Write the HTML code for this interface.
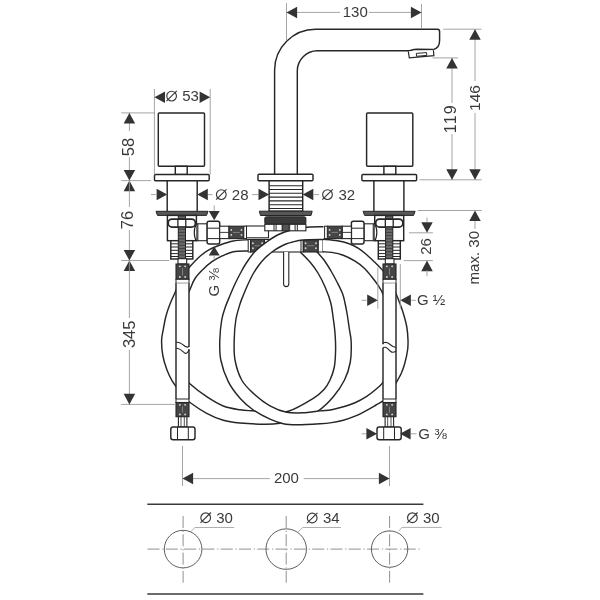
<!DOCTYPE html>
<html><head><meta charset="utf-8"><title>drawing</title>
<style>html,body{margin:0;padding:0;background:#fff;width:600px;height:600px;overflow:hidden}
svg{display:block;font-family:"Liberation Sans",sans-serif;will-change:transform}</style></head>
<body>
<svg width="600" height="600" viewBox="0 0 600 600" font-family="Liberation Sans, sans-serif" fill="#3a3a3a">
<rect width="600" height="600" fill="#fff" stroke="none"/>
<rect x="262" y="239.5" width="42" height="12.5" rx="0" fill="#fff" stroke="#262626" stroke-width="1.1"/>
<rect x="246" y="226" width="22.5" height="11.8" rx="0" fill="#fff" stroke="#262626" stroke-width="1.1"/>
<path d="M248,239.7 C245.55,239.92 237.97,240.12 233.3,241 C228.63,241.88 224,243.55 220,245 C216,246.45 212.63,247.82 209.3,249.7 C205.97,251.58 202.88,253.87 200,256.3 C197.12,258.73 194.33,261.77 192,264.3 C189.67,266.83 188,268.72 186,271.5 C184,274.28 181.78,277.58 180,281 C178.22,284.42 176.97,288.17 175.3,292 C173.63,295.83 171.55,300 170,304 C168.45,308 167.12,311.78 166,316 C164.88,320.22 164.03,325.22 163.3,329.3 C162.57,333.38 161.68,336.13 161.6,340.5 C161.52,344.87 161.93,350.67 162.8,355.5 C163.67,360.33 165.27,365.3 166.8,369.5 C168.33,373.7 170.22,377.53 172,380.7 C173.78,383.87 175.58,385.95 177.5,388.5 C179.42,391.05 181.42,393.67 183.5,396 C185.58,398.33 186.13,399.62 190,402.5 C193.87,405.38 201.15,410.33 206.7,413.3 C212.25,416.27 217.75,418.68 223.3,420.3 C228.85,421.92 233.05,422.35 240,423 C246.95,423.65 258.33,424.15 265,424.2 C271.67,424.25 274.17,424.08 280,423.3 C285.83,422.52 293.62,421.58 300,419.5 C306.38,417.42 312.75,414.6 318.3,410.8 C323.85,407 328.93,401.83 333.3,396.7 C337.67,391.57 341.67,385.78 344.5,380 C347.33,374.22 349.18,368.33 350.3,362 C351.42,355.67 351.38,347.67 351.2,342 C351.02,336.33 349.85,332.5 349.2,328 C348.55,323.5 348,319.17 347.3,315 C346.6,310.83 345.8,306.58 345,303 C344.2,299.42 343.83,297 342.5,293.5 C341.17,290 338.92,285.75 337,282 C335.08,278.25 333.17,274.67 331,271 C328.83,267.33 326.42,263.25 324,260 C321.58,256.75 317.75,252.92 316.5,251.5 L300.3,252 C301.92,253.67 307.05,258.5 310,262 C312.95,265.5 315.45,268.75 318,273 C320.55,277.25 323.17,282.5 325.3,287.5 C327.43,292.5 329.48,297.92 330.8,303 C332.12,308.08 332.5,313 333.2,318 C333.9,323 334.6,327.67 335,333 C335.4,338.33 335.72,344.33 335.6,350 C335.48,355.67 335.23,362 334.3,367 C333.37,372 331.72,376.25 330,380 C328.28,383.75 326.78,386.45 324,389.5 C321.22,392.55 319.25,394.67 313.3,398.3 C307.35,401.93 295.52,409.1 288.3,411.3 C281.08,413.5 276.1,411.58 270,411.5 C263.9,411.42 256.7,411.08 251.7,410.8 C246.7,410.52 244.73,410.6 240,409.8 C235.27,409 228.85,408.18 223.3,406 C217.75,403.82 212.37,400.48 206.7,396.7 C201.03,392.92 193.33,386.92 189.3,383.3 C185.27,379.68 184.3,378.55 182.5,375 C180.7,371.45 179.38,367 178.5,362 C177.62,357 177.32,350.33 177.2,345 C177.08,339.67 177.33,335 177.8,330 C178.27,325 178.97,319.67 180,315 C181.03,310.33 182.45,306 184,302 C185.55,298 187.52,294.83 189.3,291 C191.08,287.17 192.47,282.55 194.7,279 C196.93,275.45 199.82,272.58 202.7,269.7 C205.58,266.82 208.67,264.03 212,261.7 C215.33,259.37 219.15,257.37 222.7,255.7 C226.25,254.03 229.08,252.48 233.3,251.7 C237.52,250.92 245.55,251.12 248,251 Z" fill="#fff" stroke="none"/>
<path d="M248,239.7 C245.55,239.92 237.97,240.12 233.3,241 C228.63,241.88 224,243.55 220,245 C216,246.45 212.63,247.82 209.3,249.7 C205.97,251.58 202.88,253.87 200,256.3 C197.12,258.73 194.33,261.77 192,264.3 C189.67,266.83 188,268.72 186,271.5 C184,274.28 181.78,277.58 180,281 C178.22,284.42 176.97,288.17 175.3,292 C173.63,295.83 171.55,300 170,304 C168.45,308 167.12,311.78 166,316 C164.88,320.22 164.03,325.22 163.3,329.3 C162.57,333.38 161.68,336.13 161.6,340.5 C161.52,344.87 161.93,350.67 162.8,355.5 C163.67,360.33 165.27,365.3 166.8,369.5 C168.33,373.7 170.22,377.53 172,380.7 C173.78,383.87 175.58,385.95 177.5,388.5 C179.42,391.05 181.42,393.67 183.5,396 C185.58,398.33 186.13,399.62 190,402.5 C193.87,405.38 201.15,410.33 206.7,413.3 C212.25,416.27 217.75,418.68 223.3,420.3 C228.85,421.92 233.05,422.35 240,423 C246.95,423.65 258.33,424.15 265,424.2 C271.67,424.25 274.17,424.08 280,423.3 C285.83,422.52 293.62,421.58 300,419.5 C306.38,417.42 312.75,414.6 318.3,410.8 C323.85,407 328.93,401.83 333.3,396.7 C337.67,391.57 341.67,385.78 344.5,380 C347.33,374.22 349.18,368.33 350.3,362 C351.42,355.67 351.38,347.67 351.2,342 C351.02,336.33 349.85,332.5 349.2,328 C348.55,323.5 348,319.17 347.3,315 C346.6,310.83 345.8,306.58 345,303 C344.2,299.42 343.83,297 342.5,293.5 C341.17,290 338.92,285.75 337,282 C335.08,278.25 333.17,274.67 331,271 C328.83,267.33 326.42,263.25 324,260 C321.58,256.75 317.75,252.92 316.5,251.5" stroke="#262626" stroke-width="1.45" fill="none"/>
<path d="M248,251 C245.55,251.12 237.52,250.92 233.3,251.7 C229.08,252.48 226.25,254.03 222.7,255.7 C219.15,257.37 215.33,259.37 212,261.7 C208.67,264.03 205.58,266.82 202.7,269.7 C199.82,272.58 196.93,275.45 194.7,279 C192.47,282.55 191.08,287.17 189.3,291 C187.52,294.83 185.55,298 184,302 C182.45,306 181.03,310.33 180,315 C178.97,319.67 178.27,325 177.8,330 C177.33,335 177.08,339.67 177.2,345 C177.32,350.33 177.62,357 178.5,362 C179.38,367 180.7,371.45 182.5,375 C184.3,378.55 185.27,379.68 189.3,383.3 C193.33,386.92 201.03,392.92 206.7,396.7 C212.37,400.48 217.75,403.82 223.3,406 C228.85,408.18 235.27,409 240,409.8 C244.73,410.6 246.7,410.52 251.7,410.8 C256.7,411.08 263.9,411.42 270,411.5 C276.1,411.58 281.08,413.5 288.3,411.3 C295.52,409.1 307.35,401.93 313.3,398.3 C319.25,394.67 321.22,392.55 324,389.5 C326.78,386.45 328.28,383.75 330,380 C331.72,376.25 333.37,372 334.3,367 C335.23,362 335.48,355.67 335.6,350 C335.72,344.33 335.4,338.33 335,333 C334.6,327.67 333.9,323 333.2,318 C332.5,313 332.12,308.08 330.8,303 C329.48,297.92 327.43,292.5 325.3,287.5 C323.17,282.5 320.55,277.25 318,273 C315.45,268.75 312.95,265.5 310,262 C307.05,258.5 301.92,253.67 300.3,252" stroke="#262626" stroke-width="1.45" fill="none"/>
<rect x="248.2" y="239.5" width="2.4" height="12.5" rx="0" fill="#fff" stroke="#262626" stroke-width="1.0"/>
<rect x="250.6" y="239.5" width="13.9" height="12.5" rx="0" fill="#464646" stroke="#262626" stroke-width="1.1"/>
<circle cx="252.9" cy="243.25" r="0.9" fill="#ddd"/>
<circle cx="252.9" cy="248.25" r="0.9" fill="#ddd"/>
<circle cx="262.2" cy="243.25" r="0.9" fill="#ddd"/>
<circle cx="262.2" cy="248.25" r="0.9" fill="#ddd"/>
<line x1="254.6" y1="245.75" x2="260.5" y2="245.75" stroke="#999" stroke-width="0.7"/>
<rect x="301" y="239.5" width="2.3" height="12.5" rx="0" fill="#fff" stroke="#262626" stroke-width="1.0"/>
<rect x="303.3" y="239.5" width="15" height="12.5" rx="0" fill="#464646" stroke="#262626" stroke-width="1.1"/>
<circle cx="305.6" cy="243.25" r="0.9" fill="#ddd"/>
<circle cx="305.6" cy="248.25" r="0.9" fill="#ddd"/>
<circle cx="316" cy="243.25" r="0.9" fill="#ddd"/>
<circle cx="316" cy="248.25" r="0.9" fill="#ddd"/>
<line x1="307.3" y1="245.75" x2="314.3" y2="245.75" stroke="#999" stroke-width="0.7"/>
<rect x="318.3" y="239.5" width="4.7" height="12.5" rx="0" fill="#fff" stroke="#262626" stroke-width="1.0"/>
<path d="M283.6,252 L283.6,284 A2.6,2.6 0 0 0 288.8,284 L288.8,252" stroke="#262626" stroke-width="1.1" fill="#fff"/>
<path d="M323.5,226.75 C320.33,226.88 310.17,226.88 304.5,227.5 C298.83,228.12 294,229.25 289.5,230.5 C285,231.75 281.25,233.12 277.5,235 C273.75,236.88 270.75,239 267,241.75 C263.25,244.5 258.5,247.88 255,251.5 C251.5,255.12 248.5,259.75 246,263.5 C243.5,267.25 241.92,270.42 240,274 C238.08,277.58 236.17,281.42 234.5,285 C232.83,288.58 231.58,291.67 230,295.5 C228.42,299.33 226.38,303.92 225,308 C223.62,312.08 222.57,314.67 221.7,320 C220.83,325.33 219.95,333.33 219.8,340 C219.65,346.67 219.38,353.05 220.8,360 C222.22,366.95 225.1,375.32 228.3,381.7 C231.5,388.08 235.83,393.58 240,398.3 C244.17,403.02 248.3,406.52 253.3,410 C258.3,413.48 265,416.92 270,419.2 C275,421.48 278.85,422.78 283.3,423.7 C287.75,424.62 290.58,424.69 296.7,424.7 C302.82,424.71 314.17,424.1 320,423.75 C325.83,423.4 327.82,423.18 331.7,422.6 C335.58,422.02 339.42,421.32 343.3,420.25 C347.18,419.18 351.1,417.86 355,416.2 C358.9,414.54 363.2,412.17 366.7,410.3 C370.2,408.43 373.28,406.58 376,405 C378.72,403.42 380.67,402.88 383,400.8 C385.33,398.72 387.87,395.42 390,392.5 C392.13,389.58 393.93,386.47 395.8,383.3 C397.67,380.13 399.7,376.83 401.2,373.5 C402.7,370.17 403.73,367.22 404.8,363.3 C405.87,359.38 407.07,353.88 407.6,350 C408.13,346.12 408.13,343.83 408,340 C407.87,336.17 407.58,331.45 406.8,327 C406.02,322.55 404.52,317.38 403.3,313.3 C402.08,309.22 400.75,305.83 399.5,302.5 C398.25,299.17 397.43,296.8 395.8,293.3 C394.17,289.8 391.73,285.1 389.7,281.5 C387.67,277.9 385.1,273.92 383.6,271.7 C382.1,269.48 382.17,269.77 380.7,268.2 C379.23,266.63 377.13,264.54 374.8,262.3 C372.47,260.06 369.42,257.08 366.7,254.75 C363.98,252.42 361.42,250.14 358.5,248.3 C355.58,246.46 352.7,244.96 349.2,243.7 C345.7,242.44 341.87,241.5 337.5,240.75 C333.13,240 325.42,239.46 323,239.2 L323,251.8 C324.45,251.9 328.32,251.82 331.7,252.4 C335.08,252.98 339.42,253.83 343.3,255.3 C347.18,256.77 351.5,259.05 355,261.2 C358.5,263.35 361.58,265.68 364.3,268.2 C367.02,270.72 368.97,273.38 371.3,276.3 C373.63,279.22 376.35,282.78 378.3,285.7 C380.25,288.62 381.3,290.42 383,293.8 C384.7,297.18 387,301.3 388.5,306 C390,310.7 391.2,316.33 392,322 C392.8,327.67 393.3,334.17 393.3,340 C393.3,345.83 392.8,351.67 392,357 C391.2,362.33 390,367.78 388.5,372 C387,376.22 385.08,379.42 383,382.3 C380.92,385.18 378.72,386.97 376,389.3 C373.28,391.63 370.2,394.06 366.7,396.3 C363.2,398.54 358.9,401 355,402.75 C351.1,404.5 347.18,405.63 343.3,406.8 C339.42,407.97 335.58,409.07 331.7,409.75 C327.82,410.43 324.45,410.41 320,410.9 C315.55,411.39 310.55,412.48 305,412.7 C299.45,412.92 292.53,413.35 286.7,412.2 C280.87,411.05 275.57,408.95 270,405.8 C264.43,402.65 258.02,397.6 253.3,393.3 C248.58,389 244.75,385.55 241.7,380 C238.65,374.45 236.25,366.67 235,360 C233.75,353.33 234.07,346.67 234.2,340 C234.33,333.33 234.83,326 235.8,320 C236.77,314 238.77,308.08 240,304 C241.23,299.92 242,298.5 243.2,295.5 C244.4,292.5 245.57,289.58 247.2,286 C248.83,282.42 251.03,277.5 253,274 C254.97,270.5 257,267.67 259,265 C261,262.33 262.83,260.17 265,258 C267.17,255.83 269.83,253.67 272,252 C274.17,250.33 275.67,249.33 278,248 C280.33,246.67 283.67,244.97 286,244 C288.33,243.03 289.17,242.87 292,242.2 C294.83,241.53 297.75,240.45 303,240 C308.25,239.55 320.08,239.58 323.5,239.5 Z" fill="#fff" stroke="none"/>
<path d="M323.5,226.75 C320.33,226.88 310.17,226.88 304.5,227.5 C298.83,228.12 294,229.25 289.5,230.5 C285,231.75 281.25,233.12 277.5,235 C273.75,236.88 270.75,239 267,241.75 C263.25,244.5 258.5,247.88 255,251.5 C251.5,255.12 248.5,259.75 246,263.5 C243.5,267.25 241.92,270.42 240,274 C238.08,277.58 236.17,281.42 234.5,285 C232.83,288.58 231.58,291.67 230,295.5 C228.42,299.33 226.38,303.92 225,308 C223.62,312.08 222.57,314.67 221.7,320 C220.83,325.33 219.95,333.33 219.8,340 C219.65,346.67 219.38,353.05 220.8,360 C222.22,366.95 225.1,375.32 228.3,381.7 C231.5,388.08 235.83,393.58 240,398.3 C244.17,403.02 248.3,406.52 253.3,410 C258.3,413.48 265,416.92 270,419.2 C275,421.48 278.85,422.78 283.3,423.7 C287.75,424.62 290.58,424.69 296.7,424.7 C302.82,424.71 314.17,424.1 320,423.75 C325.83,423.4 327.82,423.18 331.7,422.6 C335.58,422.02 339.42,421.32 343.3,420.25 C347.18,419.18 351.1,417.86 355,416.2 C358.9,414.54 363.2,412.17 366.7,410.3 C370.2,408.43 373.28,406.58 376,405 C378.72,403.42 380.67,402.88 383,400.8 C385.33,398.72 387.87,395.42 390,392.5 C392.13,389.58 393.93,386.47 395.8,383.3 C397.67,380.13 399.7,376.83 401.2,373.5 C402.7,370.17 403.73,367.22 404.8,363.3 C405.87,359.38 407.07,353.88 407.6,350 C408.13,346.12 408.13,343.83 408,340 C407.87,336.17 407.58,331.45 406.8,327 C406.02,322.55 404.52,317.38 403.3,313.3 C402.08,309.22 400.75,305.83 399.5,302.5 C398.25,299.17 397.43,296.8 395.8,293.3 C394.17,289.8 391.73,285.1 389.7,281.5 C387.67,277.9 385.1,273.92 383.6,271.7 C382.1,269.48 382.17,269.77 380.7,268.2 C379.23,266.63 377.13,264.54 374.8,262.3 C372.47,260.06 369.42,257.08 366.7,254.75 C363.98,252.42 361.42,250.14 358.5,248.3 C355.58,246.46 352.7,244.96 349.2,243.7 C345.7,242.44 341.87,241.5 337.5,240.75 C333.13,240 325.42,239.46 323,239.2" stroke="#262626" stroke-width="1.45" fill="none"/>
<path d="M323.5,239.5 C320.08,239.58 308.25,239.55 303,240 C297.75,240.45 294.83,241.53 292,242.2 C289.17,242.87 288.33,243.03 286,244 C283.67,244.97 280.33,246.67 278,248 C275.67,249.33 274.17,250.33 272,252 C269.83,253.67 267.17,255.83 265,258 C262.83,260.17 261,262.33 259,265 C257,267.67 254.97,270.5 253,274 C251.03,277.5 248.83,282.42 247.2,286 C245.57,289.58 244.4,292.5 243.2,295.5 C242,298.5 241.23,299.92 240,304 C238.77,308.08 236.77,314 235.8,320 C234.83,326 234.33,333.33 234.2,340 C234.07,346.67 233.75,353.33 235,360 C236.25,366.67 238.65,374.45 241.7,380 C244.75,385.55 248.58,389 253.3,393.3 C258.02,397.6 264.43,402.65 270,405.8 C275.57,408.95 280.87,411.05 286.7,412.2 C292.53,413.35 299.45,412.92 305,412.7 C310.55,412.48 315.55,411.39 320,410.9 C324.45,410.41 327.82,410.43 331.7,409.75 C335.58,409.07 339.42,407.97 343.3,406.8 C347.18,405.63 351.1,404.5 355,402.75 C358.9,401 363.2,398.54 366.7,396.3 C370.2,394.06 373.28,391.63 376,389.3 C378.72,386.97 380.92,385.18 383,382.3 C385.08,379.42 387,376.22 388.5,372 C390,367.78 391.2,362.33 392,357 C392.8,351.67 393.3,345.83 393.3,340 C393.3,334.17 392.8,327.67 392,322 C391.2,316.33 390,310.7 388.5,306 C387,301.3 384.7,297.18 383,293.8 C381.3,290.42 380.25,288.62 378.3,285.7 C376.35,282.78 373.63,279.22 371.3,276.3 C368.97,273.38 367.02,270.72 364.3,268.2 C361.58,265.68 358.5,263.35 355,261.2 C351.5,259.05 347.18,256.77 343.3,255.3 C339.42,253.83 335.08,252.98 331.7,252.4 C328.32,251.82 324.45,251.9 323,251.8" stroke="#262626" stroke-width="1.45" fill="none"/>
<path d="M274.6,174.3 L274.6,70.2 C274.6,47.6 293,29.2 315.6,29.2 L437.5,29.2 Q439.6,29.2 439.6,31.5 L439.6,40.5 C439.6,45.5 437,48.6 433.3,49.6" stroke="#262626" stroke-width="1.45" fill="none"/>
<path d="M297.3,174.3 L297.3,70.8 C297.3,59.8 306.3,50.8 317.3,50.8 L408.3,50.8 C411,50.8 412,49.3 417,49.2 L433.5,49.5" stroke="#262626" stroke-width="1.45" fill="none"/>
<path d="M408.3,51.4 L409.3,57.9 L433.9,55.6 L433.4,50.2" stroke="#262626" stroke-width="1.2" fill="#fff"/>
<path d="M416.3,53.4 L416.6,56.3 L426.8,55.4 L426.6,52.6 Z" stroke="#262626" stroke-width="1.0" fill="none"/>
<rect x="258" y="174.3" width="55" height="6.5" rx="1" fill="#fff" stroke="#262626" stroke-width="1.45"/>
<rect x="269.1" y="180.8" width="33.6" height="30.4" rx="0" fill="#fff" stroke="#262626" stroke-width="1.45"/>
<line x1="269.1" y1="185.7" x2="302.7" y2="185.7" stroke="#262626" stroke-width="1.1"/>
<line x1="269.1" y1="189.5" x2="302.7" y2="189.5" stroke="#262626" stroke-width="1.1"/>
<line x1="269.1" y1="193.3" x2="302.7" y2="193.3" stroke="#262626" stroke-width="1.1"/>
<line x1="269.1" y1="197.1" x2="302.7" y2="197.1" stroke="#262626" stroke-width="1.1"/>
<line x1="269.1" y1="200.9" x2="302.7" y2="200.9" stroke="#262626" stroke-width="1.1"/>
<line x1="269.1" y1="204.7" x2="302.7" y2="204.7" stroke="#262626" stroke-width="1.1"/>
<line x1="269.1" y1="208.5" x2="302.7" y2="208.5" stroke="#262626" stroke-width="1.1"/>
<polygon points="259.3,211.2 312.2,211.2 311,215.5 260.5,215.5" fill="#585858" stroke="#262626" stroke-width="1"/>
<rect x="264.8" y="216.8" width="41.1" height="7.5" rx="1.5" fill="#3a3a3a" stroke="#262626" stroke-width="1.0"/>
<rect x="264.8" y="224.3" width="41.1" height="6.5" rx="0" fill="#fff" stroke="#262626" stroke-width="1.1"/>
<line x1="274" y1="224.3" x2="274" y2="230.8" stroke="#262626" stroke-width="1.0"/>
<line x1="276.1" y1="224.3" x2="276.1" y2="230.8" stroke="#262626" stroke-width="1.0"/>
<line x1="282.1" y1="224.3" x2="282.1" y2="230.8" stroke="#262626" stroke-width="1.0"/>
<line x1="289.7" y1="224.3" x2="289.7" y2="230.8" stroke="#262626" stroke-width="1.0"/>
<line x1="295.1" y1="224.3" x2="295.1" y2="230.8" stroke="#262626" stroke-width="1.0"/>
<line x1="297.3" y1="224.3" x2="297.3" y2="230.8" stroke="#262626" stroke-width="1.0"/>
<rect x="282.6" y="224.3" width="6.2" height="6.5" rx="0" fill="#555" stroke="#262626" stroke-width="0.8"/>
<g>
<rect x="158.3" y="113" width="46.2" height="53.3" rx="1" fill="#fff" stroke="#262626" stroke-width="1.45"/>
<rect x="175.3" y="166.3" width="11.9" height="8.2" rx="0" fill="#fff" stroke="#262626" stroke-width="1.45"/>
<rect x="154.5" y="174.5" width="54.7" height="6.3" rx="1" fill="#fff" stroke="#262626" stroke-width="1.45"/>
<line x1="167.2" y1="180.8" x2="167.2" y2="211.3" stroke="#262626" stroke-width="1.45"/>
<line x1="197.2" y1="180.8" x2="197.2" y2="211.3" stroke="#262626" stroke-width="1.45"/>
<polygon points="156,211.3 208,211.3 206.5,215.4 157.5,215.4" fill="#585858" stroke="#262626" stroke-width="1"/>
<rect x="196.4" y="223.8" width="10.8" height="16.9" rx="0" fill="#fff" stroke="#262626" stroke-width="1.1"/>
<line x1="197.8" y1="223.8" x2="197.8" y2="240.7" stroke="#262626" stroke-width="1.1"/>
<rect x="207.1" y="221.2" width="12.6" height="22.9" rx="2" fill="#fff" stroke="#262626" stroke-width="1.45"/>
<line x1="207.1" y1="228.2" x2="219.7" y2="228.2" stroke="#262626" stroke-width="1.0"/>
<line x1="207.1" y1="238.6" x2="219.7" y2="238.6" stroke="#262626" stroke-width="1.0"/>
<rect x="219.7" y="226.2" width="9.3" height="12.4" rx="0" fill="#fff" stroke="#262626" stroke-width="1.1"/>
<line x1="219.7" y1="232.4" x2="229" y2="232.4" stroke="#262626" stroke-width="0.9"/>
<rect x="229" y="226.2" width="14.8" height="12.4" rx="0" fill="#464646" stroke="#262626" stroke-width="1.1"/>
<circle cx="231.3" cy="229.92" r="0.9" fill="#ddd"/>
<circle cx="231.3" cy="234.88" r="0.9" fill="#ddd"/>
<circle cx="241.5" cy="229.92" r="0.9" fill="#ddd"/>
<circle cx="241.5" cy="234.88" r="0.9" fill="#ddd"/>
<line x1="233" y1="232.4" x2="239.8" y2="232.4" stroke="#999" stroke-width="0.7"/>
<rect x="243.8" y="226.2" width="2.7" height="12.4" rx="0" fill="#fff" stroke="#262626" stroke-width="1.0"/>
<rect x="167.4" y="215.4" width="29" height="25.3" rx="0" fill="#fff" stroke="#262626" stroke-width="1.45"/>
<rect x="178.3" y="215.4" width="7.2" height="3.8" rx="0" fill="#9a9a9a" stroke="#262626" stroke-width="1.0"/>
<line x1="178.3" y1="216.6" x2="185.5" y2="216.6" stroke="#222" stroke-width="0.75"/>
<line x1="178.3" y1="218" x2="185.5" y2="218" stroke="#222" stroke-width="0.75"/>
<rect x="168.2" y="219.1" width="27.2" height="8" rx="3.8" fill="#fff" stroke="#262626" stroke-width="1.7"/>
<line x1="177.9" y1="219.1" x2="177.9" y2="227.1" stroke="#262626" stroke-width="1.3"/>
<line x1="185.8" y1="219.1" x2="185.8" y2="227.1" stroke="#262626" stroke-width="1.3"/>
<path d="M196.4,224.3 C193.6,228 193.6,237 196.4,240.6 Z" fill="#fff" stroke="none"/>
<path d="M196.4,224.3 C193.6,228 193.6,237 196.4,240.6" stroke="#262626" stroke-width="1.2" fill="none"/>
<rect x="170.8" y="240.7" width="22" height="18.3" rx="0" fill="#fff" stroke="#262626" stroke-width="1.45"/>
<line x1="170.8" y1="243.8" x2="192.8" y2="243.8" stroke="#262626" stroke-width="1.0"/>
<line x1="170.8" y1="247" x2="192.8" y2="247" stroke="#262626" stroke-width="1.0"/>
<line x1="170.8" y1="250.3" x2="192.8" y2="250.3" stroke="#262626" stroke-width="1.0"/>
<line x1="170.8" y1="253.6" x2="192.8" y2="253.6" stroke="#262626" stroke-width="1.0"/>
<line x1="170.8" y1="256.5" x2="192.8" y2="256.5" stroke="#262626" stroke-width="1.0"/>
<rect x="178.3" y="227.1" width="7.2" height="31.9" rx="0" fill="#9a9a9a" stroke="#262626" stroke-width="1.0"/>
<line x1="178.3" y1="228.2" x2="185.5" y2="228.2" stroke="#222" stroke-width="0.75"/>
<line x1="178.3" y1="229.65" x2="185.5" y2="229.65" stroke="#222" stroke-width="0.75"/>
<line x1="178.3" y1="231.1" x2="185.5" y2="231.1" stroke="#222" stroke-width="0.75"/>
<line x1="178.3" y1="232.55" x2="185.5" y2="232.55" stroke="#222" stroke-width="0.75"/>
<line x1="178.3" y1="234" x2="185.5" y2="234" stroke="#222" stroke-width="0.75"/>
<line x1="178.3" y1="235.45" x2="185.5" y2="235.45" stroke="#222" stroke-width="0.75"/>
<line x1="178.3" y1="236.9" x2="185.5" y2="236.9" stroke="#222" stroke-width="0.75"/>
<line x1="178.3" y1="238.35" x2="185.5" y2="238.35" stroke="#222" stroke-width="0.75"/>
<line x1="178.3" y1="239.8" x2="185.5" y2="239.8" stroke="#222" stroke-width="0.75"/>
<line x1="178.3" y1="241.25" x2="185.5" y2="241.25" stroke="#222" stroke-width="0.75"/>
<line x1="178.3" y1="242.7" x2="185.5" y2="242.7" stroke="#222" stroke-width="0.75"/>
<line x1="178.3" y1="244.15" x2="185.5" y2="244.15" stroke="#222" stroke-width="0.75"/>
<line x1="178.3" y1="245.6" x2="185.5" y2="245.6" stroke="#222" stroke-width="0.75"/>
<line x1="178.3" y1="247.05" x2="185.5" y2="247.05" stroke="#222" stroke-width="0.75"/>
<line x1="178.3" y1="248.5" x2="185.5" y2="248.5" stroke="#222" stroke-width="0.75"/>
<line x1="178.3" y1="249.95" x2="185.5" y2="249.95" stroke="#222" stroke-width="0.75"/>
<line x1="178.3" y1="251.4" x2="185.5" y2="251.4" stroke="#222" stroke-width="0.75"/>
<line x1="178.3" y1="252.85" x2="185.5" y2="252.85" stroke="#222" stroke-width="0.75"/>
<line x1="178.3" y1="254.3" x2="185.5" y2="254.3" stroke="#222" stroke-width="0.75"/>
<line x1="178.3" y1="255.75" x2="185.5" y2="255.75" stroke="#222" stroke-width="0.75"/>
<line x1="178.3" y1="257.2" x2="185.5" y2="257.2" stroke="#222" stroke-width="0.75"/>
<line x1="178.3" y1="258.65" x2="185.5" y2="258.65" stroke="#222" stroke-width="0.75"/>
<rect x="178" y="258.7" width="8.7" height="5.3" rx="0" fill="#fff" stroke="#262626" stroke-width="1.1"/>
<rect x="176" y="264" width="13" height="15.3" rx="0" fill="#464646" stroke="#262626" stroke-width="1.1"/>
<circle cx="179.9" cy="266.3" r="0.9" fill="#ddd"/>
<circle cx="179.9" cy="277" r="0.9" fill="#ddd"/>
<circle cx="185.1" cy="266.3" r="0.9" fill="#ddd"/>
<circle cx="185.1" cy="277" r="0.9" fill="#ddd"/>
<line x1="182.5" y1="268" x2="182.5" y2="275.3" stroke="#999" stroke-width="0.7"/>
<rect x="176" y="279.3" width="13" height="4" rx="0" fill="#fff" stroke="#262626" stroke-width="1.0"/>
<rect x="176" y="283.3" width="13" height="115.7" fill="#fff" stroke="none"/>
<line x1="176" y1="283.3" x2="176" y2="399" stroke="#262626" stroke-width="1.45"/>
<line x1="189" y1="283.3" x2="189" y2="399" stroke="#262626" stroke-width="1.45"/>
<rect x="176" y="399" width="13" height="3.5" rx="0" fill="#fff" stroke="#262626" stroke-width="1.0"/>
<rect x="176" y="402.5" width="13" height="14.2" rx="0" fill="#464646" stroke="#262626" stroke-width="1.1"/>
<circle cx="179.9" cy="404.8" r="0.9" fill="#ddd"/>
<circle cx="179.9" cy="414.4" r="0.9" fill="#ddd"/>
<circle cx="185.1" cy="404.8" r="0.9" fill="#ddd"/>
<circle cx="185.1" cy="414.4" r="0.9" fill="#ddd"/>
<line x1="182.5" y1="406.5" x2="182.5" y2="412.7" stroke="#999" stroke-width="0.7"/>
<rect x="178.4" y="416.7" width="8.5" height="10.3" rx="0" fill="#fff" stroke="#262626" stroke-width="1.1"/>
<line x1="181" y1="416.7" x2="181" y2="427" stroke="#262626" stroke-width="0.8"/>
<line x1="184.3" y1="416.7" x2="184.3" y2="427" stroke="#262626" stroke-width="0.8"/>
<rect x="170.8" y="427" width="24.2" height="12.7" rx="2.2" fill="#fff" stroke="#262626" stroke-width="1.45"/>
<line x1="177.5" y1="427" x2="177.5" y2="439.7" stroke="#262626" stroke-width="1.0"/>
<line x1="188.3" y1="427" x2="188.3" y2="439.7" stroke="#262626" stroke-width="1.0"/>
</g>
<g transform="translate(571.1,0) scale(-1,1)">
<rect x="158.3" y="113" width="46.2" height="53.3" rx="1" fill="#fff" stroke="#262626" stroke-width="1.45"/>
<rect x="175.3" y="166.3" width="11.9" height="8.2" rx="0" fill="#fff" stroke="#262626" stroke-width="1.45"/>
<rect x="154.5" y="174.5" width="54.7" height="6.3" rx="1" fill="#fff" stroke="#262626" stroke-width="1.45"/>
<line x1="167.2" y1="180.8" x2="167.2" y2="211.3" stroke="#262626" stroke-width="1.45"/>
<line x1="197.2" y1="180.8" x2="197.2" y2="211.3" stroke="#262626" stroke-width="1.45"/>
<polygon points="156,211.3 208,211.3 206.5,215.4 157.5,215.4" fill="#585858" stroke="#262626" stroke-width="1"/>
<rect x="196.4" y="223.8" width="10.8" height="16.9" rx="0" fill="#fff" stroke="#262626" stroke-width="1.1"/>
<line x1="197.8" y1="223.8" x2="197.8" y2="240.7" stroke="#262626" stroke-width="1.1"/>
<rect x="207.1" y="221.2" width="12.6" height="22.9" rx="2" fill="#fff" stroke="#262626" stroke-width="1.45"/>
<line x1="207.1" y1="228.2" x2="219.7" y2="228.2" stroke="#262626" stroke-width="1.0"/>
<line x1="207.1" y1="238.6" x2="219.7" y2="238.6" stroke="#262626" stroke-width="1.0"/>
<rect x="219.7" y="226.2" width="9.3" height="12.4" rx="0" fill="#fff" stroke="#262626" stroke-width="1.1"/>
<line x1="219.7" y1="232.4" x2="229" y2="232.4" stroke="#262626" stroke-width="0.9"/>
<rect x="229" y="226.2" width="14.8" height="12.4" rx="0" fill="#464646" stroke="#262626" stroke-width="1.1"/>
<circle cx="231.3" cy="229.92" r="0.9" fill="#ddd"/>
<circle cx="231.3" cy="234.88" r="0.9" fill="#ddd"/>
<circle cx="241.5" cy="229.92" r="0.9" fill="#ddd"/>
<circle cx="241.5" cy="234.88" r="0.9" fill="#ddd"/>
<line x1="233" y1="232.4" x2="239.8" y2="232.4" stroke="#999" stroke-width="0.7"/>
<rect x="243.8" y="226.2" width="2.7" height="12.4" rx="0" fill="#fff" stroke="#262626" stroke-width="1.0"/>
<rect x="167.4" y="215.4" width="29" height="25.3" rx="0" fill="#fff" stroke="#262626" stroke-width="1.45"/>
<rect x="178.3" y="215.4" width="7.2" height="3.8" rx="0" fill="#9a9a9a" stroke="#262626" stroke-width="1.0"/>
<line x1="178.3" y1="216.6" x2="185.5" y2="216.6" stroke="#222" stroke-width="0.75"/>
<line x1="178.3" y1="218" x2="185.5" y2="218" stroke="#222" stroke-width="0.75"/>
<rect x="168.2" y="219.1" width="27.2" height="8" rx="3.8" fill="#fff" stroke="#262626" stroke-width="1.7"/>
<line x1="177.9" y1="219.1" x2="177.9" y2="227.1" stroke="#262626" stroke-width="1.3"/>
<line x1="185.8" y1="219.1" x2="185.8" y2="227.1" stroke="#262626" stroke-width="1.3"/>
<path d="M196.4,224.3 C193.6,228 193.6,237 196.4,240.6 Z" fill="#fff" stroke="none"/>
<path d="M196.4,224.3 C193.6,228 193.6,237 196.4,240.6" stroke="#262626" stroke-width="1.2" fill="none"/>
<rect x="170.8" y="240.7" width="22" height="18.3" rx="0" fill="#fff" stroke="#262626" stroke-width="1.45"/>
<line x1="170.8" y1="243.8" x2="192.8" y2="243.8" stroke="#262626" stroke-width="1.0"/>
<line x1="170.8" y1="247" x2="192.8" y2="247" stroke="#262626" stroke-width="1.0"/>
<line x1="170.8" y1="250.3" x2="192.8" y2="250.3" stroke="#262626" stroke-width="1.0"/>
<line x1="170.8" y1="253.6" x2="192.8" y2="253.6" stroke="#262626" stroke-width="1.0"/>
<line x1="170.8" y1="256.5" x2="192.8" y2="256.5" stroke="#262626" stroke-width="1.0"/>
<rect x="178.3" y="227.1" width="7.2" height="31.9" rx="0" fill="#9a9a9a" stroke="#262626" stroke-width="1.0"/>
<line x1="178.3" y1="228.2" x2="185.5" y2="228.2" stroke="#222" stroke-width="0.75"/>
<line x1="178.3" y1="229.65" x2="185.5" y2="229.65" stroke="#222" stroke-width="0.75"/>
<line x1="178.3" y1="231.1" x2="185.5" y2="231.1" stroke="#222" stroke-width="0.75"/>
<line x1="178.3" y1="232.55" x2="185.5" y2="232.55" stroke="#222" stroke-width="0.75"/>
<line x1="178.3" y1="234" x2="185.5" y2="234" stroke="#222" stroke-width="0.75"/>
<line x1="178.3" y1="235.45" x2="185.5" y2="235.45" stroke="#222" stroke-width="0.75"/>
<line x1="178.3" y1="236.9" x2="185.5" y2="236.9" stroke="#222" stroke-width="0.75"/>
<line x1="178.3" y1="238.35" x2="185.5" y2="238.35" stroke="#222" stroke-width="0.75"/>
<line x1="178.3" y1="239.8" x2="185.5" y2="239.8" stroke="#222" stroke-width="0.75"/>
<line x1="178.3" y1="241.25" x2="185.5" y2="241.25" stroke="#222" stroke-width="0.75"/>
<line x1="178.3" y1="242.7" x2="185.5" y2="242.7" stroke="#222" stroke-width="0.75"/>
<line x1="178.3" y1="244.15" x2="185.5" y2="244.15" stroke="#222" stroke-width="0.75"/>
<line x1="178.3" y1="245.6" x2="185.5" y2="245.6" stroke="#222" stroke-width="0.75"/>
<line x1="178.3" y1="247.05" x2="185.5" y2="247.05" stroke="#222" stroke-width="0.75"/>
<line x1="178.3" y1="248.5" x2="185.5" y2="248.5" stroke="#222" stroke-width="0.75"/>
<line x1="178.3" y1="249.95" x2="185.5" y2="249.95" stroke="#222" stroke-width="0.75"/>
<line x1="178.3" y1="251.4" x2="185.5" y2="251.4" stroke="#222" stroke-width="0.75"/>
<line x1="178.3" y1="252.85" x2="185.5" y2="252.85" stroke="#222" stroke-width="0.75"/>
<line x1="178.3" y1="254.3" x2="185.5" y2="254.3" stroke="#222" stroke-width="0.75"/>
<line x1="178.3" y1="255.75" x2="185.5" y2="255.75" stroke="#222" stroke-width="0.75"/>
<line x1="178.3" y1="257.2" x2="185.5" y2="257.2" stroke="#222" stroke-width="0.75"/>
<line x1="178.3" y1="258.65" x2="185.5" y2="258.65" stroke="#222" stroke-width="0.75"/>
</g>
<g transform="translate(572,0) scale(-1,1)">
<rect x="178" y="258.7" width="8.7" height="5.3" rx="0" fill="#fff" stroke="#262626" stroke-width="1.1"/>
<rect x="176" y="264" width="13" height="15.3" rx="0" fill="#464646" stroke="#262626" stroke-width="1.1"/>
<circle cx="179.9" cy="266.3" r="0.9" fill="#ddd"/>
<circle cx="179.9" cy="277" r="0.9" fill="#ddd"/>
<circle cx="185.1" cy="266.3" r="0.9" fill="#ddd"/>
<circle cx="185.1" cy="277" r="0.9" fill="#ddd"/>
<line x1="182.5" y1="268" x2="182.5" y2="275.3" stroke="#999" stroke-width="0.7"/>
<rect x="176" y="279.3" width="13" height="4" rx="0" fill="#fff" stroke="#262626" stroke-width="1.0"/>
<rect x="176" y="283.3" width="13" height="115.7" fill="#fff" stroke="none"/>
<line x1="176" y1="283.3" x2="176" y2="399" stroke="#262626" stroke-width="1.45"/>
<line x1="189" y1="283.3" x2="189" y2="399" stroke="#262626" stroke-width="1.45"/>
<rect x="176" y="399" width="13" height="3.5" rx="0" fill="#fff" stroke="#262626" stroke-width="1.0"/>
<rect x="176" y="402.5" width="13" height="14.2" rx="0" fill="#464646" stroke="#262626" stroke-width="1.1"/>
<circle cx="179.9" cy="404.8" r="0.9" fill="#ddd"/>
<circle cx="179.9" cy="414.4" r="0.9" fill="#ddd"/>
<circle cx="185.1" cy="404.8" r="0.9" fill="#ddd"/>
<circle cx="185.1" cy="414.4" r="0.9" fill="#ddd"/>
<line x1="182.5" y1="406.5" x2="182.5" y2="412.7" stroke="#999" stroke-width="0.7"/>
<rect x="178.4" y="416.7" width="8.5" height="10.3" rx="0" fill="#fff" stroke="#262626" stroke-width="1.1"/>
<line x1="181" y1="416.7" x2="181" y2="427" stroke="#262626" stroke-width="0.8"/>
<line x1="184.3" y1="416.7" x2="184.3" y2="427" stroke="#262626" stroke-width="0.8"/>
<rect x="170.8" y="427" width="24.2" height="12.7" rx="2.2" fill="#fff" stroke="#262626" stroke-width="1.45"/>
<line x1="177.5" y1="427" x2="177.5" y2="439.7" stroke="#262626" stroke-width="1.0"/>
<line x1="188.3" y1="427" x2="188.3" y2="439.7" stroke="#262626" stroke-width="1.0"/>
</g>
<rect x="188" y="346.9" width="2.2" height="2.3" fill="#fff" stroke="none"/>
<path d="M176.2,342.3 C180,341.6 183.2,345 185.5,346.6 C187.2,347.6 188.4,347 189,346.2" stroke="#262626" stroke-width="1.15" fill="none"/>
<path d="M176.2,348.3 C180,348.2 182.5,351.5 184.6,353 C186.5,354.2 188.2,352 189,349.6" stroke="#262626" stroke-width="1.15" fill="none"/>
<rect x="381.9" y="344.3" width="2.4" height="3.5" fill="#fff" stroke="none"/>
<path d="M383,343.8 C383.5,342.4 385.3,341.9 387.5,342.8 C390.2,344 392.3,347.2 396,347.4" stroke="#262626" stroke-width="1.15" fill="none"/>
<path d="M383,348.1 C383.5,347 385.3,346.8 387.5,348.4 C389.7,350.4 392,354.5 396,350.8" stroke="#262626" stroke-width="1.15" fill="none"/>
<line x1="286.5" y1="3" x2="286.5" y2="40" stroke="#9a9a9a" stroke-width="0.9"/>
<line x1="421.5" y1="4" x2="421.5" y2="28" stroke="#9a9a9a" stroke-width="0.9"/>
<line x1="286.5" y1="12.4" x2="340" y2="12.4" stroke="#9a9a9a" stroke-width="0.9"/>
<line x1="369" y1="12.4" x2="421.5" y2="12.4" stroke="#9a9a9a" stroke-width="0.9"/>
<polygon points="286.5,12.4 297.1,6.65 297.1,18.15" fill="#333"/>
<polygon points="421.5,12.4 410.9,6.65 410.9,18.15" fill="#333"/>
<text x="355.3" y="17" text-anchor="middle" font-size="15">130</text>
<line x1="443.3" y1="29.2" x2="481.5" y2="29.2" stroke="#9a9a9a" stroke-width="0.9"/>
<line x1="432.5" y1="57.9" x2="458" y2="57.9" stroke="#9a9a9a" stroke-width="0.9"/>
<line x1="419.5" y1="179.8" x2="481.7" y2="179.8" stroke="#9a9a9a" stroke-width="0.9"/>
<line x1="475" y1="29.2" x2="475" y2="81" stroke="#9a9a9a" stroke-width="0.9"/>
<line x1="475" y1="113" x2="475" y2="179.8" stroke="#9a9a9a" stroke-width="0.9"/>
<polygon points="475,29.2 469.25,39.8 480.75,39.8" fill="#333"/>
<polygon points="475,179.8 469.25,169.2 480.75,169.2" fill="#333"/>
<text x="480.3" y="98" text-anchor="middle" font-size="15.5" transform="rotate(-90 480.3 98)">146</text>
<line x1="452" y1="57.9" x2="452" y2="103" stroke="#9a9a9a" stroke-width="0.9"/>
<line x1="452" y1="134" x2="452" y2="179.8" stroke="#9a9a9a" stroke-width="0.9"/>
<polygon points="452,57.9 446.25,68.5 457.75,68.5" fill="#333"/>
<polygon points="452,179.8 446.25,169.2 457.75,169.2" fill="#333"/>
<text x="456.5" y="118.7" text-anchor="middle" font-size="16" transform="rotate(-90 456.5 118.7)" letter-spacing="1.2">119</text>
<line x1="417.7" y1="210.5" x2="481.7" y2="210.5" stroke="#9a9a9a" stroke-width="0.9"/>
<polygon points="475,210.5 469.25,221.1 480.75,221.1" fill="#333"/>
<line x1="475" y1="221" x2="475" y2="229" stroke="#9a9a9a" stroke-width="0.9"/>
<text x="479.5" y="257.7" text-anchor="middle" font-size="15" transform="rotate(-90 479.5 257.7)">max. 30</text>
<line x1="427" y1="217.5" x2="427" y2="222" stroke="#9a9a9a" stroke-width="0.9"/>
<line x1="409" y1="232.8" x2="432.9" y2="232.8" stroke="#9a9a9a" stroke-width="0.9"/>
<polygon points="427,232.8 421.25,222.2 432.75,222.2" fill="#333"/>
<line x1="403.7" y1="260.6" x2="432.9" y2="260.6" stroke="#9a9a9a" stroke-width="0.9"/>
<polygon points="427,260.6 421.25,271.2 432.75,271.2" fill="#333"/>
<line x1="427" y1="270" x2="427" y2="276.2" stroke="#9a9a9a" stroke-width="0.9"/>
<text x="431.4" y="246.4" text-anchor="middle" font-size="15" transform="rotate(-90 431.4 246.4)">26</text>
<line x1="377.8" y1="267.5" x2="377.8" y2="308.7" stroke="#9a9a9a" stroke-width="0.9"/>
<line x1="400.3" y1="264" x2="400.3" y2="308.7" stroke="#9a9a9a" stroke-width="0.9"/>
<line x1="361.7" y1="300.3" x2="366.7" y2="300.3" stroke="#9a9a9a" stroke-width="0.9"/>
<polygon points="377.8,300.3 367.2,294.55 367.2,306.05" fill="#333"/>
<polygon points="400.3,300.3 410.9,294.55 410.9,306.05" fill="#333"/>
<line x1="411.3" y1="300.3" x2="415.8" y2="300.3" stroke="#9a9a9a" stroke-width="0.9"/>
<text x="417" y="305.3" text-anchor="start" font-size="15">G ½</text>
<line x1="361.7" y1="433.8" x2="366.3" y2="433.8" stroke="#9a9a9a" stroke-width="0.9"/>
<polygon points="377,433.8 366.4,428.05 366.4,439.55" fill="#333"/>
<polygon points="400,433.8 410.6,428.05 410.6,439.55" fill="#333"/>
<line x1="411" y1="433.8" x2="416.7" y2="433.8" stroke="#9a9a9a" stroke-width="0.9"/>
<text x="418.3" y="439" text-anchor="start" font-size="15">G ⅜</text>
<line x1="182.5" y1="446" x2="182.5" y2="486" stroke="#9a9a9a" stroke-width="0.9"/>
<line x1="389.5" y1="446" x2="389.5" y2="486" stroke="#9a9a9a" stroke-width="0.9"/>
<line x1="182.5" y1="478.6" x2="269.9" y2="478.6" stroke="#9a9a9a" stroke-width="0.9"/>
<line x1="303.7" y1="478.6" x2="389.5" y2="478.6" stroke="#9a9a9a" stroke-width="0.9"/>
<polygon points="182.5,478.6 193.1,472.85 193.1,484.35" fill="#333"/>
<polygon points="389.5,478.6 378.9,472.85 378.9,484.35" fill="#333"/>
<text x="286.4" y="483" text-anchor="middle" font-size="15">200</text>
<line x1="154.4" y1="89" x2="154.4" y2="174.5" stroke="#9a9a9a" stroke-width="0.9"/>
<line x1="210.2" y1="89" x2="210.2" y2="174.5" stroke="#9a9a9a" stroke-width="0.9"/>
<polygon points="154.4,97.3 165,91.55 165,103.05" fill="#333"/>
<polygon points="210.2,97.3 199.6,91.55 199.6,103.05" fill="#333"/>
<circle cx="171.6" cy="96.1" r="4.85" fill="none" stroke="#3a3a3a" stroke-width="1.15"/>
<line x1="166.4" y1="101.2" x2="176.8" y2="90.9" stroke="#3a3a3a" stroke-width="1.15"/>
<text x="182.2" y="100.8" text-anchor="start" font-size="15">53</text>
<line x1="121.3" y1="112.9" x2="155" y2="112.9" stroke="#9a9a9a" stroke-width="0.9"/>
<line x1="121.3" y1="180.6" x2="151" y2="180.6" stroke="#9a9a9a" stroke-width="0.9"/>
<line x1="121.2" y1="260.5" x2="169.4" y2="260.5" stroke="#9a9a9a" stroke-width="0.9"/>
<line x1="121.2" y1="404.4" x2="176" y2="404.4" stroke="#9a9a9a" stroke-width="0.9"/>
<line x1="129.4" y1="112.9" x2="129.4" y2="131" stroke="#9a9a9a" stroke-width="0.9"/>
<line x1="129.4" y1="157" x2="129.4" y2="180.6" stroke="#9a9a9a" stroke-width="0.9"/>
<polygon points="129.4,112.9 123.65,123.5 135.15,123.5" fill="#333"/>
<polygon points="129.4,180.6 123.65,170 135.15,170" fill="#333"/>
<text x="133.6" y="147" text-anchor="middle" font-size="16.5" transform="rotate(-90 133.6 147)">58</text>
<polygon points="129.4,180.6 123.65,191.2 135.15,191.2" fill="#333"/>
<line x1="129.4" y1="180.6" x2="129.4" y2="207" stroke="#9a9a9a" stroke-width="0.9"/>
<line x1="129.4" y1="230" x2="129.4" y2="260.5" stroke="#9a9a9a" stroke-width="0.9"/>
<polygon points="129.4,260.5 123.65,249.9 135.15,249.9" fill="#333"/>
<text x="133.4" y="220" text-anchor="middle" font-size="16.5" transform="rotate(-90 133.4 220)">76</text>
<polygon points="129.4,260.5 123.65,271.1 135.15,271.1" fill="#333"/>
<line x1="129.4" y1="260.5" x2="129.4" y2="318" stroke="#9a9a9a" stroke-width="0.9"/>
<line x1="129.4" y1="350" x2="129.4" y2="404.4" stroke="#9a9a9a" stroke-width="0.9"/>
<polygon points="129.4,404.4 123.65,393.8 135.15,393.8" fill="#333"/>
<text x="135.4" y="334.3" text-anchor="middle" font-size="16.5" transform="rotate(-90 135.4 334.3)">345</text>
<line x1="151" y1="194.6" x2="156" y2="194.6" stroke="#9a9a9a" stroke-width="0.9"/>
<polygon points="167.2,194.6 156.6,188.85 156.6,200.35" fill="#333"/>
<polygon points="197.2,194.6 207.8,188.85 207.8,200.35" fill="#333"/>
<line x1="208" y1="194.6" x2="212.5" y2="194.6" stroke="#9a9a9a" stroke-width="0.9"/>
<circle cx="221.3" cy="194.6" r="4.85" fill="none" stroke="#3a3a3a" stroke-width="1.15"/>
<line x1="216.1" y1="199.7" x2="226.5" y2="189.4" stroke="#3a3a3a" stroke-width="1.15"/>
<text x="231.8" y="200" text-anchor="start" font-size="15">28</text>
<line x1="252" y1="194.6" x2="258.3" y2="194.6" stroke="#9a9a9a" stroke-width="0.9"/>
<polygon points="269.1,194.6 258.5,188.85 258.5,200.35" fill="#333"/>
<polygon points="302.7,194.6 313.3,188.85 313.3,200.35" fill="#333"/>
<line x1="313.5" y1="194.6" x2="319" y2="194.6" stroke="#9a9a9a" stroke-width="0.9"/>
<circle cx="327.5" cy="194.6" r="4.85" fill="none" stroke="#3a3a3a" stroke-width="1.15"/>
<line x1="322.3" y1="199.7" x2="332.7" y2="189.4" stroke="#3a3a3a" stroke-width="1.15"/>
<text x="338.4" y="200" text-anchor="start" font-size="15">32</text>
<line x1="214.2" y1="205.5" x2="214.2" y2="211" stroke="#9a9a9a" stroke-width="0.9"/>
<polygon points="214.2,220.2 208.7,211 219.7,211" fill="#333"/>
<polygon points="214.2,246.6 208.7,255.4 219.7,255.4" fill="#333"/>
<line x1="214.2" y1="255" x2="214.2" y2="259.7" stroke="#9a9a9a" stroke-width="0.9"/>
<text x="218.5" y="296.5" text-anchor="start" font-size="15" transform="rotate(-90 218.5 296.5)">G ⅜</text>
<line x1="147.3" y1="504.3" x2="423.4" y2="504.3" stroke="#3a3a3a" stroke-width="1.5"/>
<line x1="147.3" y1="594" x2="423.4" y2="594" stroke="#3a3a3a" stroke-width="1.5"/>
<line x1="147.5" y1="549.1" x2="422" y2="549.1" stroke="#8a8a8a" stroke-width="0.95" stroke-dasharray="12,2.8,1.2,2.3"/>
<circle cx="183.1" cy="549.1" r="18.8" fill="none" stroke="#555" stroke-width="0.95"/>
<line x1="183.1" y1="516" x2="183.1" y2="582.7" stroke="#8a8a8a" stroke-width="0.95" stroke-dasharray="12,2.8,1.2,2.3"/>
<circle cx="286.2" cy="549.1" r="20.25" fill="none" stroke="#555" stroke-width="0.95"/>
<line x1="286.2" y1="516" x2="286.2" y2="582.7" stroke="#8a8a8a" stroke-width="0.95" stroke-dasharray="12,2.8,1.2,2.3"/>
<circle cx="389.6" cy="549.1" r="18.2" fill="none" stroke="#555" stroke-width="0.95"/>
<line x1="389.6" y1="516" x2="389.6" y2="582.7" stroke="#8a8a8a" stroke-width="0.95" stroke-dasharray="12,2.8,1.2,2.3"/>
<polyline points="190.8,531.7 195,527.5 234.2,527.5" fill="none" stroke="#a0a0a0" stroke-width="0.85"/>
<polyline points="298.2,532 302.7,527.5 341,527.5" fill="none" stroke="#a0a0a0" stroke-width="0.85"/>
<polyline points="398.9,530.9 401.9,527.4 441.6,527.4" fill="none" stroke="#a0a0a0" stroke-width="0.85"/>
<circle cx="205.7" cy="517.7" r="4.85" fill="none" stroke="#3a3a3a" stroke-width="1.15"/>
<line x1="200.5" y1="522.8" x2="210.9" y2="512.5" stroke="#3a3a3a" stroke-width="1.15"/>
<text x="216.2" y="522.8" text-anchor="start" font-size="15">30</text>
<circle cx="312.2" cy="518" r="4.85" fill="none" stroke="#3a3a3a" stroke-width="1.15"/>
<line x1="307" y1="523.1" x2="317.4" y2="512.8" stroke="#3a3a3a" stroke-width="1.15"/>
<text x="323" y="522.8" text-anchor="start" font-size="15">34</text>
<circle cx="412.4" cy="517.7" r="4.85" fill="none" stroke="#3a3a3a" stroke-width="1.15"/>
<line x1="407.2" y1="522.8" x2="417.6" y2="512.5" stroke="#3a3a3a" stroke-width="1.15"/>
<text x="423" y="522.8" text-anchor="start" font-size="15">30</text>
</svg>
</body></html>
